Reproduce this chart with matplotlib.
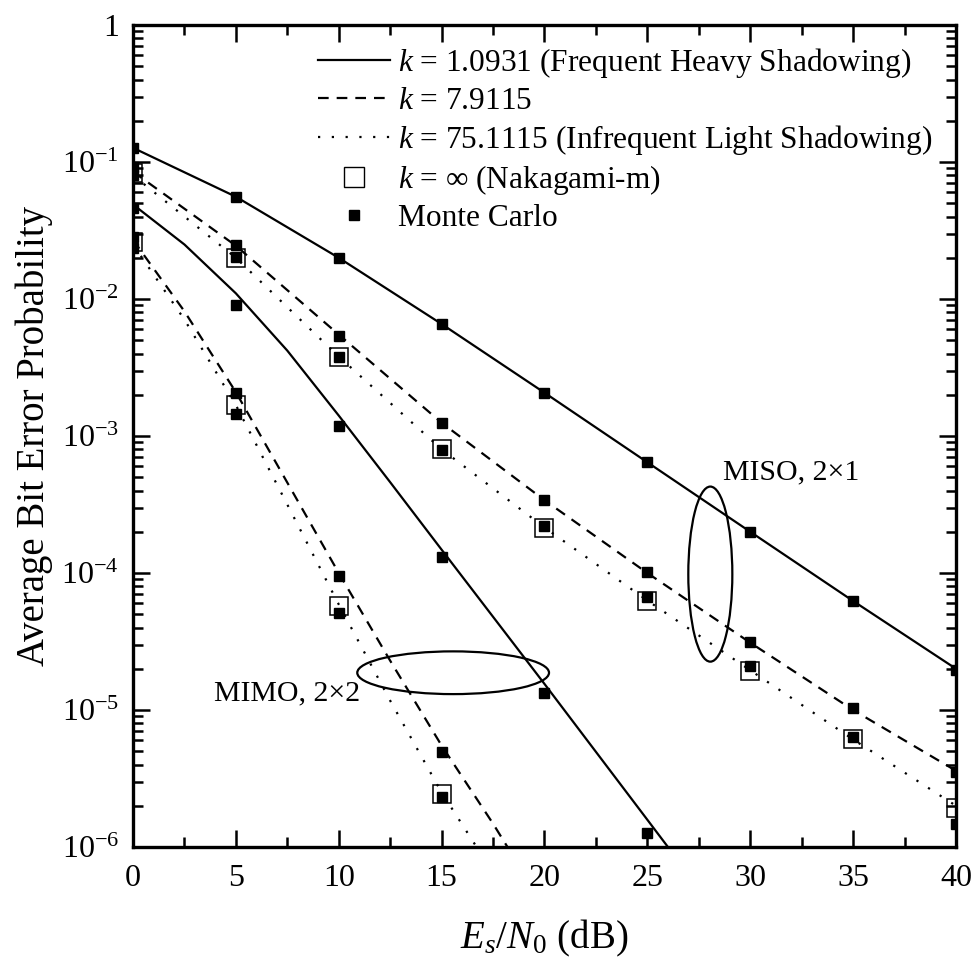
import numpy as np
import matplotlib
matplotlib.use("Agg")
import matplotlib.pyplot as plt
from matplotlib.patches import Ellipse
from matplotlib.lines import Line2D

plt.rcParams['font.family'] = ['Liberation Serif', 'DejaVu Serif']
plt.rcParams['mathtext.fontset'] = 'custom'
plt.rcParams['mathtext.rm'] = 'Liberation Serif'
plt.rcParams['mathtext.it'] = 'Liberation Serif:italic'

# ---- data ----
snr = [0, 5, 10, 15, 20, 25, 30, 35, 40]

# MISO 2x1, analytical curves
miso_k1   = [0.127, 0.0558, 0.0200, 6.57e-3, 2.07e-3, 6.43e-4, 2.0e-4, 6.25e-5, 2.0e-5]
miso_k7   = [0.085, 0.0245, 5.5e-3, 1.25e-3, 3.4e-4, 1.0e-4, 3.1e-5, 1.0e-5, 3.6e-6]
miso_k75  = [0.080, 0.0200, 3.8e-3, 8.0e-4, 2.15e-4, 6.3e-5, 1.95e-5, 6.1e-6, 2.0e-6]
# MISO 2x1, Nakagami-m (k = inf) and Monte Carlo
miso_nak    = [0.0826, 0.0200, 3.8e-3, 8.0e-4, 2.13e-4, 6.2e-5, 1.94e-5, 6.1e-6, 1.93e-6]
miso_mc_k1  = [0.127, 0.0558, 0.0200, 6.57e-3, 2.07e-3, 6.43e-4, 2.0e-4, 6.25e-5, 1.96e-5]
miso_mc_k7  = [0.092, 0.0248, 5.37e-3, 1.25e-3, 3.4e-4, 1.01e-4, 3.12e-5, 1.03e-5, 3.55e-6]
miso_mc_k75 = [0.080, 0.0204, 3.79e-3, 7.9e-4, 2.2e-4, 6.7e-5, 2.1e-5, 6.4e-6, 1.47e-6]

# MIMO 2x2, analytical curves (last point = where the curve leaves the plot)
mimo_k1_x  = [0, 2.5, 5, 7.5, 10, 12.5, 15, 20, 25, 26.0]
mimo_k1    = [0.049, 0.025, 0.0110, 4.2e-3, 1.41e-3, 4.6e-4, 1.48e-4, 1.55e-5, 1.58e-6, 1.0e-6]
mimo_k7_x  = [0, 2.5, 5, 7.5, 10, 12.5, 15, 17.5, 18.2]
mimo_k7    = [0.027, 8.13e-3, 2.09e-3, 4.57e-4, 1.0e-4, 2.29e-5, 5.5e-6, 1.48e-6, 1.0e-6]
mimo_k75_x = [0, 2.5, 5, 7.5, 10, 12.5, 15, 16.7]
mimo_k75   = [0.025, 7.08e-3, 1.68e-3, 3.16e-4, 5.9e-5, 1.17e-5, 2.5e-6, 1.0e-6]
# MIMO 2x2, Nakagami-m and Monte Carlo
snr_mimo    = [0, 5, 10, 15]
mimo_nak    = [0.0262, 1.68e-3, 5.7e-5, 2.44e-6]
mimo_mc_k1_x = [0, 5, 10, 15, 20, 25]
mimo_mc_k1  = [0.046, 9.0e-3, 1.18e-3, 1.31e-4, 1.32e-5, 1.26e-6]
mimo_mc_k7  = [0.0285, 2.05e-3, 9.5e-5, 4.97e-6]
mimo_mc_k75 = [0.0235, 1.45e-3, 5.1e-5, 2.33e-6]

yticks = [1e-6, 1e-5, 1e-4, 1e-3, 1e-2, 1e-1, 1]
ylabels = ['10$^{-6}$', '10$^{-5}$', '10$^{-4}$', '10$^{-3}$', '10$^{-2}$', '10$^{-1}$', '1']
xticks = [0, 5, 10, 15, 20, 25, 30, 35, 40]

# ---- styles ----
lw = 1.6
DASH = (0, (4.8, 3.6))
DOT = (0, (1.0, 5.2))
mc_kw = dict(ls='none', marker='s', ms=7.5, color='black', mec='black')
nak_kw = dict(ls='none', marker='s', ms=13, mfc='none', mec='black', mew=1.1)

fig = plt.figure(figsize=(9.73, 9.67), dpi=100)
ax = fig.add_axes([0.1367, 0.1241, 0.8458, 0.85])

# MISO
ax.plot(snr, miso_k1, color='black', lw=lw, ls='-')
ax.plot(snr, miso_k7, color='black', lw=lw, ls=DASH)
ax.plot(snr, miso_k75, color='black', lw=lw, ls=DOT)
ax.plot(snr, miso_nak, **nak_kw)
ax.plot(snr, miso_mc_k1, **mc_kw)
ax.plot(snr, miso_mc_k7, **mc_kw)
ax.plot(snr, miso_mc_k75, **mc_kw)

# MIMO
ax.plot(mimo_k1_x, mimo_k1, color='black', lw=lw, ls='-')
ax.plot(mimo_k7_x, mimo_k7, color='black', lw=lw, ls=DASH)
ax.plot(mimo_k75_x, mimo_k75, color='black', lw=lw, ls=DOT)
ax.plot(snr_mimo, mimo_nak, **nak_kw)
ax.plot(mimo_mc_k1_x, mimo_mc_k1, **mc_kw)
ax.plot(snr_mimo, mimo_mc_k7, **mc_kw)
ax.plot(snr_mimo, mimo_mc_k75, **mc_kw)

ax.set_yscale('log')
ax.set_xlim(0, 40)
ax.set_ylim(1e-6, 1)
ax.set_xticks(xticks)
ax.set_xticks([2.5 + 5 * i for i in range(8)], minor=True)
ax.set_yticks(yticks)
ax.set_yticklabels(ylabels)
ax.tick_params(which='both', direction='in', top=True, right=True, width=1.8, labelsize=23)
ax.tick_params(which='major', length=12)
ax.tick_params(which='minor', length=7)
ax.tick_params(axis='x', pad=12)
ax.tick_params(axis='y', pad=10)
for s in ax.spines.values():
    s.set_linewidth(2.4)

ax.set_xlabel(r'$E_s/N_{\mathit{0}}$ (dB)', fontsize=28, labelpad=18)
ax.set_ylabel('Average Bit Error Probability', fontsize=28, labelpad=6)

# group ellipses (axes fraction coords)
ax.add_patch(Ellipse((0.389, 0.212), 0.233, 0.052, transform=ax.transAxes,
                     fill=False, ec='black', lw=1.6))
ax.add_patch(Ellipse((0.7015, 0.332), 0.0535, 0.213, transform=ax.transAxes,
                     fill=False, ec='black', lw=1.6))
ax.text(28.7, 5.4e-4, 'MISO, 2\u00d71', fontsize=21.5, va='center', ha='left')
ax.text(3.95, 1.33e-5, 'MIMO, 2\u00d72', fontsize=21.5, va='center', ha='left')

handles = [
    Line2D([0], [0], color='black', lw=lw, ls='-'),
    Line2D([0], [0], color='black', lw=lw, ls=DASH),
    Line2D([0], [0], color='black', lw=lw, ls=DOT),
    Line2D([0], [0], ls='none', marker='s', ms=14, mfc='none', mec='black', mew=1.0),
    Line2D([0], [0], ls='none', marker='s', ms=7.5, color='black'),
]
labels = [
    r'$k$ = 1.0931 (Frequent Heavy Shadowing)',
    r'$k$ = 7.9115',
    r'$k$ = 75.1115 (Infrequent Light Shadowing)',
    '$k$ = \u221e (Nakagami-m)',
    'Monte Carlo',
]
ax.legend(handles, labels, loc='upper left', bbox_to_anchor=(0.225, 0.974),
          frameon=False, fontsize=22.6, handlelength=2.3, handletextpad=0.25,
          labelspacing=0.21, borderpad=0, borderaxespad=0)

fig.savefig('out.png', dpi=100)
